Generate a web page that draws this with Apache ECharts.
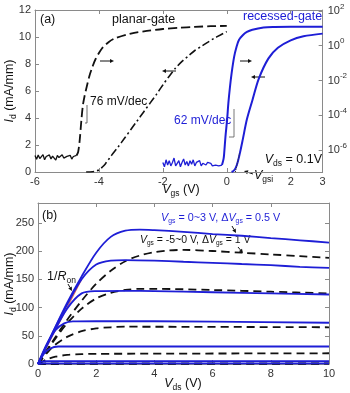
<!DOCTYPE html>
<html>
<head>
<meta charset="utf-8">
<script src="https://cdn.jsdelivr.net/npm/echarts@6/dist/echarts.min.js"></script>
<style>
  html, body { margin: 0; padding: 0; background: #fff; }
  #chart { width: 350px; height: 393px; }
</style>
</head>
<body>
<div id="chart"></div>
<script>
// ---- panel (a): transfer curves, Vds = 0.1 V ----
// log-scale curves (right axis, values are log10 of Id)
const planarLogNoise = [[-6,-6.3],[-5.95,-6.52],[-5.9,-6.28],[-5.85,-6.48],[-5.8,-6.4],[-5.75,-6.25],[-5.7,-6.55],[-5.65,-6.36],[-5.6,-6.46],[-5.55,-6.27],[-5.5,-6.5],[-5.45,-6.34],[-5.4,-6.44],[-5.35,-6.57],[-5.3,-6.3],[-5.25,-6.42],[-5.2,-6.5],[-5.15,-6.26],[-5.1,-6.45],[-5.05,-6.53],[-5,-6.35],[-4.95,-6.43],[-4.9,-6.29],[-4.85,-6.51],[-4.8,-6.36],[-4.75,-6.47],[-4.7,-6.3]];
const planarLog = [[-4.7,-6.3],[-4.65,-6.1],[-4.6,-5.4],[-4.55,-4.3],[-4.5,-3.4],[-4.45,-2.9],[-4.4,-2.5],[-4.3,-1.75],[-4.2,-1.2],[-4.1,-0.75],[-3.9,-0.15],[-3.7,0.2],[-3.5,0.42],[-3,0.7],[-2.5,0.85],[-2,0.96],[-1.5,1.03],[-1,1.08],[-0.5,1.12],[0,1.14]];
const recessedLogNoise = [[-2,-6.7],[-1.95,-6.95],[-1.9,-6.55],[-1.85,-6.85],[-1.8,-6.6],[-1.75,-6.9],[-1.7,-6.7],[-1.65,-6.45],[-1.6,-6.9],[-1.55,-6.75],[-1.5,-6.6],[-1.45,-6.95],[-1.4,-6.7],[-1.35,-6.5],[-1.3,-6.85],[-1.25,-6.65],[-1.2,-6.9],[-1.15,-6.6],[-1.1,-6.8],[-1.05,-6.55],[-1,-6.9],[-0.95,-6.7],[-0.9,-6.8],[-0.85,-6.6],[-0.8,-6.9],[-0.75,-6.75],[-0.7,-6.65],[-0.65,-6.85],[-0.6,-6.7],[-0.55,-6.8],[-0.5,-6.75],[-0.45,-6.9],[-0.4,-6.8],[-0.35,-6.85],[-0.3,-6.75],[-0.25,-6.9],[-0.2,-6.8],[-0.15,-6.85]];
const recessedLog = [[-0.15,-6.85],[-0.1,-6.5],[-0.08,-6.16],[-0.04,-5.2],[0.01,-4.26],[0.05,-3.3],[0.1,-2.37],[0.15,-1.6],[0.23,-0.64],[0.3,-0.1],[0.38,0.33],[0.5,0.6],[0.63,0.79],[0.8,0.92],[1.15,1.05],[1.5,1.08],[2,1.09],[3,1.09]];
// linear-scale curves (left axis, mA/mm)
const planarLin = [[-4.4,0],[-4.2,0.02],[-4.1,0.06],[-4,0.15],[-3.9,0.35],[-3.8,0.6],[-3.6,1.25],[-3.4,1.85],[-3.2,2.5],[-3,3.15],[-2.8,3.8],[-2.6,4.45],[-2.4,5.1],[-2.2,5.75],[-2,6.45],[-1.8,7.1],[-1.6,7.7],[-1.4,8.2],[-1.2,8.6],[-1,9],[-0.8,9.3],[-0.6,9.6],[-0.4,9.9],[-0.2,10.15],[0,10.4]];
const recessedLin = [[0.15,0],[0.22,0.1],[0.28,0.3],[0.35,0.8],[0.42,1.5],[0.5,2.4],[0.63,3.9],[0.8,5.3],[1,6.9],[1.3,8.4],[1.6,9.2],[2,9.75],[2.4,10.05],[3,10.25]];
const vgsiLine = [[0.27,0],[0.4,1.4]];

const aXTicks = [-6, -4, -2, 0, 2, 3];
const aLeftTicks = [0, 2, 4, 6, 8, 10, 12];
const aRightTicks = [-6, -4, -2, 0, 2];

// ---- panel (b): output curves ----
const recessedOut = [
  [[0,0],[0.5,55],[1,108],[1.5,155],[2,197],[2.5,225],[3,236],[3.5,238],[4,237],[5,234],[6,230],[7,227],[8,223],[9,219],[10,215]], // Vgs = 3
  [[0,0],[0.5,55],[1,105],[1.5,150],[2,176],[2.5,183],[3,184],[4,183],[5,181],[6,179],[7,177],[8,175],[9,172],[10,170]],            // 2.5
  [[0,0],[0.5,52],[1,98],[1.5,125],[2,129],[3,129.5],[4,129],[6,127],[8,125],[10,123]],                                             // 2
  [[0,0],[0.3,35],[0.6,60],[0.9,72],[1.2,75.5],[2,76],[6,75],[10,73]],                                                             // 1.5
  [[0,0],[0.2,18],[0.4,27],[0.7,31],[10,31]],                                                                                      // 1
  [[0,0],[0.1,4],[0.3,5],[10,5]],                                                                                                  // 0.5
  [[0,0],[0.2,1],[10,1]]                                                                                                           // 0
];
const planarOut = [
  [[0,0],[0.5,40],[1,78],[1.5,112],[2,142],[2.5,165],[3,182],[3.5,192],[4,198],[4.5,201],[5,202],[6,200],[7,197],[8,194],[9,191],[10,188]], // Vgs = 0
  [[0,0],[0.5,38],[1,72],[1.5,98],[2,116],[2.5,126],[3,131],[3.5,133],[4,133],[6,131],[8,128],[10,125]],                              // -1
  [[0,0],[0.5,30],[1,48],[1.5,58],[2,63],[2.5,65],[3,66],[10,65]],                                                                   // -2
  [[0,0],[0.3,8],[0.6,13],[1,16],[1.5,17.5],[2,18],[10,19]],                                                                         // -3
  [[0,0],[0.3,1],[10,1]],                                                                                                            // -4
  [[0,0],[10,0.5]]                                                                                                                   // -5
];
const ronLine = [[0,0],[1.5,150]];
const bXTicks = [0, 2, 4, 6, 8, 10];
const bYTicks = [0, 50, 100, 150, 200, 250];

const BLUE = "#1e1ed6";
const BLACK = "#111";
const FRAME = "#8a8a8a";
const FONT = "Liberation Sans, Arial, sans-serif";

function axisBase(ticks, showLabel) {
  return {
    axisLine: { show: true, onZero: false, lineStyle: { color: FRAME, width: 1 } },
    axisTick: { show: true, inside: true, length: 4, customValues: ticks, lineStyle: { color: FRAME } },
    axisLabel: { show: showLabel, customValues: ticks, color: "#333", fontSize: 11, fontFamily: FONT, margin: 4 },
    splitLine: { show: false },
  };
}

function line(data, xi, yi, color, type, width, smooth, z) {
  return {
    type: "line", data: data, xAxisIndex: xi, yAxisIndex: yi,
    showSymbol: false, smooth: smooth || false, z: z || 2, silent: true,
    lineStyle: { color: color, type: type, width: width },
  };
}

function arrow(x1, y1, x2, y2, color) {
  const a = Math.atan2(y2 - y1, x2 - x1);
  const L = 4, W = 2;
  const bx = x2 - L * Math.cos(a), by = y2 - L * Math.sin(a);
  return [
    { type: "line", shape: { x1: x1, y1: y1, x2: bx, y2: by }, style: { stroke: color, lineWidth: 1 } },
    { type: "polygon", shape: { points: [[x2, y2], [bx - W * Math.sin(a), by + W * Math.cos(a)], [bx + W * Math.sin(a), by - W * Math.cos(a)]] }, style: { fill: color } },
  ];
}

function txt(x, y, text, color, size, rich, align) {
  return {
    type: "text", x: x, y: y,
    style: {
      text: text, fill: color, fontSize: size, fontFamily: FONT,
      align: align || "left", verticalAlign: "middle", rich: rich || {},
    },
  };
}

function subRich(color, size) {
  return {
    i: { fontStyle: "italic", fontSize: size, fill: color, fontFamily: FONT },
    n: { fontSize: size, fill: color, fontFamily: FONT },
    s: { fontSize: size - 4, fill: color, fontFamily: FONT, padding: [size * 0.55, 0, 0, 0] },
  };
}

const series = [];
// panel a
series.push(line(planarLogNoise, 0, 1, BLACK, "solid", 1.3));
series.push(line(planarLog, 0, 1, BLACK, [9, 4], 1.8, 0.3));
series.push(line(planarLin, 0, 0, BLACK, [8, 3, 2, 3], 1.6, 0.3));
series.push(line(recessedLogNoise, 0, 1, BLUE, "solid", 1.3));
series.push(line(recessedLog, 0, 1, BLUE, "solid", 2, 0.3));
series.push(line(recessedLin, 0, 0, BLUE, "solid", 2, 0.3));
series.push(line(vgsiLine, 0, 0, "#333", "dotted", 1));
// panel b
series.push(line(ronLine, 2, 2, "#e86a4a", "solid", 1.2, false, 1));
planarOut.forEach(function (d) { series.push(line(d, 2, 2, BLACK, [8, 5], 1.8, 0.3)); });
recessedOut.forEach(function (d) { series.push(line(d, 2, 2, BLUE, "solid", 1.8, 0.3)); });

let graphics = [];
// panel a annotations
graphics.push(txt(40, 20, "(a)", BLACK, 12.5));
graphics.push(txt(112, 20, "planar-gate", BLACK, 12.5));
graphics.push(txt(243, 17, "recessed-gate", BLUE, 12.5));
graphics = graphics.concat(arrow(100, 61, 114, 61, BLACK));
graphics = graphics.concat(arrow(176, 71, 162, 71, BLACK));
graphics = graphics.concat(arrow(240, 61, 252, 61, BLACK));
graphics = graphics.concat(arrow(265, 77, 251, 77, BLACK));
graphics.push(txt(90, 102, "76 mV/dec", BLACK, 12));
graphics.push({ type: "polyline", shape: { points: [[87, 105], [87, 123], [85, 123]] }, style: { stroke: "#444", lineWidth: 0.8, fill: null } });
graphics.push(txt(174, 121, "62 mV/dec", BLUE, 12));
graphics.push({ type: "polyline", shape: { points: [[234, 109], [234, 137], [229, 137]] }, style: { stroke: "#555", lineWidth: 0.8, fill: null } });
graphics.push(txt(322, 160, "{i|V}{s|ds}{n| = 0.1V}", BLACK, 12.5, subRich(BLACK, 12.5), "right"));
graphics.push(txt(254, 176, "{i|V}{s|gsi}", BLACK, 12.5, subRich(BLACK, 12.5)));
graphics = graphics.concat(arrow(253, 174, 244, 171, BLACK));
// panel b annotations
graphics.push(txt(42, 216, "(b)", BLACK, 12.5));
graphics.push(txt(161, 218, "{i|V}{s|gs}{n| = 0~3 V, \u0394}{i|V}{s|gs}{n| = 0.5 V}", BLUE, 10.5, subRich(BLUE, 10.8)));
graphics = graphics.concat(arrow(232, 226, 236, 233, BLACK));
graphics.push(txt(140, 240, "{i|V}{s|gs}{n| = -5~0 V, \u0394}{i|V}{s|gs}{n| = 1 V}", BLACK, 10.5, subRich(BLACK, 10.5)));
graphics = graphics.concat(arrow(238, 247, 243, 253, BLACK));
graphics.push(txt(47, 277, "{n|1/}{i|R}{s|on}", BLACK, 12.5, subRich(BLACK, 12.5)));
graphics = graphics.concat(arrow(68, 284, 72, 291, BLACK));
// axis names
graphics.push(txt(181, 190, "{i|V}{s|gs}{n| (V)}", BLACK, 12.5, subRich(BLACK, 12.5), "center"));
graphics.push(txt(183, 384, "{i|V}{s|ds}{n| (V)}", BLACK, 12.5, subRich(BLACK, 12.5), "center"));
const yNameA = txt(0, 0, "{i|I}{s|d}{n| (mA/mm)}", BLACK, 12.5, subRich(BLACK, 12.5), "center");
yNameA.x = 10; yNameA.y = 91; yNameA.rotation = Math.PI / 2;
graphics.push(yNameA);
const yNameB = txt(0, 0, "{i|I}{s|d}{n| (mA/mm)}", BLACK, 12.5, subRich(BLACK, 12.5), "center");
yNameB.x = 10; yNameB.y = 284; yNameB.rotation = Math.PI / 2;
graphics.push(yNameB);

const chart = echarts.init(document.getElementById("chart"), null, { renderer: "canvas" });
chart.setOption({
  animation: false,
  backgroundColor: "#fff",
  grid: [
    { left: 35, top: 10, width: 292, height: 162 },
    { left: 38, top: 203, width: 291, height: 161 },
  ],
  xAxis: [
    Object.assign({ type: "value", gridIndex: 0, min: -6, max: 3, position: "bottom" }, axisBase(aXTicks, true)),
    Object.assign({ type: "value", gridIndex: 0, min: -6, max: 3, position: "top" }, axisBase(aXTicks, false)),
    Object.assign({ type: "value", gridIndex: 1, min: 0, max: 10, position: "bottom" }, axisBase(bXTicks, true)),
    Object.assign({ type: "value", gridIndex: 1, min: 0, max: 10, position: "top" }, axisBase(bXTicks, false)),
  ],
  yAxis: [
    Object.assign({ type: "value", gridIndex: 0, min: 0, max: 12, position: "left" }, axisBase(aLeftTicks, true)),
    (function () {
      const ax = Object.assign({ type: "value", gridIndex: 0, min: -7.25, max: 2.05, position: "right" }, axisBase(aRightTicks, true));
      ax.axisLabel = Object.assign({}, ax.axisLabel, {
        margin: 5,
        formatter: function (v) { return "{b|10}{e|" + v + "}"; },
        rich: {
          b: { fontSize: 11, color: "#333", fontFamily: FONT },
          e: { fontSize: 8, color: "#333", fontFamily: FONT, padding: [0, 0, 9, 0] },
        },
      });
      return ax;
    })(),
    Object.assign({ type: "value", gridIndex: 1, min: 0, max: 285, position: "left" }, axisBase(bYTicks, true)),
    Object.assign({ type: "value", gridIndex: 1, min: 0, max: 285, position: "right" }, axisBase(bYTicks, false)),
  ],
  series: series,
  graphic: graphics,
});
</script>
</body>
</html>
